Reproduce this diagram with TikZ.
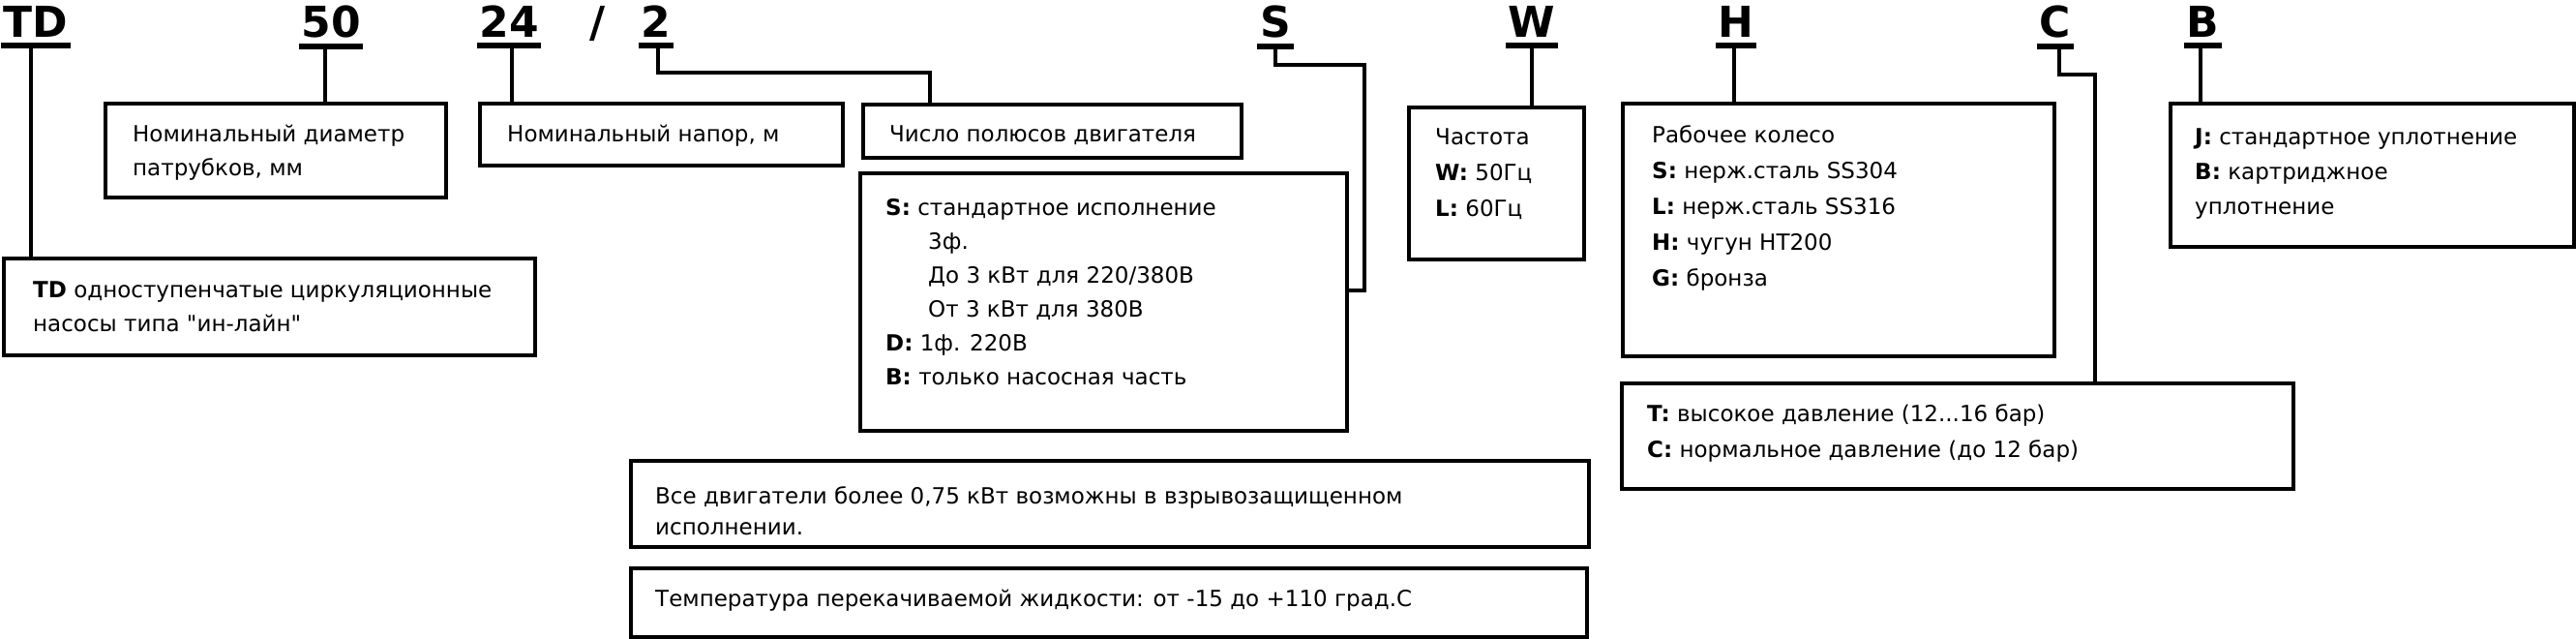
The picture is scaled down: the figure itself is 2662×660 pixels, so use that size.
\documentclass[tikz,border=0pt]{standalone}
\usepackage{fontspec}
\setmainfont{DejaVu Sans}
\newfontfamily\qfont{DejaVu Sans}
\begin{document}
\begin{tikzpicture}[x=1pt,y=-1pt,
  lbl/.style={font=\fontsize{44}{50}\selectfont\bfseries, anchor=base, inner xsep=2.5pt, inner ysep=8pt},
  uline/.style={line width=6pt},
  conn/.style={line width=3.5pt, line join=miter},
  box/.style={draw, line width=4pt, anchor=north west, inner sep=0pt},
  txt/.style={anchor=base west, align=left, inner sep=0pt},
  f35/.style={font=\fontsize{23}{35}\selectfont},
  f37/.style={font=\fontsize{23}{37}\selectfont},
  f36/.style={font=\fontsize{23}{36}\selectfont},
  f32/.style={font=\fontsize{23}{32}\selectfont}]
\fill[white] (0,0) rectangle (2662,660);
\useasboundingbox (0,0) rectangle (2662,660);

% top code letters
\node[lbl] (lTD) at (37,39) {TD};
\node[lbl] (l50) at (342,39) {50};
\node[lbl] (l24) at (526,39) {24};
\node[lbl, inner ysep=0pt] (lsl) at (618,39) {/};
\node[lbl] (l2) at (678,39) {2};
\node[lbl] (lS) at (1318,39) {S};
\node[lbl] (lW) at (1583,39) {W};
\node[lbl] (lH) at (1794,39) {H};
\node[lbl] (lC) at (2124,39) {C};
\node[lbl] (lB) at (2276,39) {B};
\foreach \n in {lTD,l50,l24,l2,lS,lW,lH,lC,lB}
  \draw[uline] (\n.south west) -- (\n.south east);

% boxes
\node[box, minimum width=549pt, minimum height=100pt] (bTD) at (2,265) {};
\node[box, minimum width=352pt, minimum height=97pt] (b50) at (107,105) {};
\node[box, minimum width=375pt, minimum height=64pt] (b24) at (494,105) {};
\node[box, minimum width=391pt, minimum height=55pt] (bP) at (890,106) {};
\node[box, minimum width=503pt, minimum height=266pt] (bS) at (887,177) {};
\node[box, minimum width=181pt, minimum height=157pt] (bW) at (1454,109) {};
\node[box, minimum width=446pt, minimum height=261pt] (bH) at (1675,105) {};
\node[box, minimum width=694pt, minimum height=109pt] (bTC) at (1674,394) {};
\node[box, minimum width=417pt, minimum height=148pt] (bB) at (2241,105) {};
\node[box, minimum width=990pt, minimum height=89pt] (bEx) at (650,474) {};
\node[box, minimum width=988pt, minimum height=71pt] (bT) at (650,585) {};

% texts (anchored at the baseline of their last line)
\node[txt, f35] (tTD) at (34,342) {\textbf{TD} одноступенчатые циркуляционные\\насосы типа {\qfont"}ин-лайн{\qfont"}};
\node[txt, f35] (t50) at (137,182) {Номинальный диаметр\\патрубков, мм};
\node[txt, f35] (t24) at (524,147) {Номинальный напор, м};
\node[txt, f35] (tP) at (919,147) {Число полюсов двигателя};
\node[txt, f35] (tS) at (915,397) {\textbf{S:} стандартное исполнение\\
  \hspace*{44pt}3ф.\\
  \hspace*{44pt}До 3 кВт для 220/380В\\
  \hspace*{44pt}От 3 кВт для 380В\\
  \textbf{D:} 1ф. 220В\\
  \textbf{B:} только насосная часть};
\node[txt, f37] (tW) at (1483,224) {Частота\\\textbf{W:} 50Гц\\\textbf{L:} 60Гц};
\node[txt, f37] (tH) at (1707,295) {Рабочее колесо\\\textbf{S:} нерж.сталь SS304\\\textbf{L:} нерж.сталь SS316\\\textbf{H:} чугун HT200\\\textbf{G:} бронза};
\node[txt, f37] (tTC) at (1702,472) {\textbf{T:} высокое давление (12...16 бар)\\\textbf{C:} нормальное давление (до 12 бар)};
\node[txt, f36] (tB) at (2268,222) {\textbf{J:} стандартное уплотнение\\\textbf{B:} картриджное\\уплотнение};
\node[txt, f32] (tEx) at (677,552) {Все двигатели более 0,75 кВт возможны в взрывозащищенном\\исполнении.};
\node[txt, f32] (tT) at (677,626) {Температура перекачиваемой жидкости: от -15 до +110 град.С};

% connectors
\coordinate (cTD) at (32,47);
\coordinate (c50) at (336,47);
\coordinate (c24) at (529,47);
\coordinate (c2) at (680,47);
\coordinate (cS) at (1318,47);
\coordinate (cW) at (1583,47);
\coordinate (cH) at (1792,47);
\coordinate (cC) at (2128,47);
\coordinate (cB) at (2274,47);
\draw[conn] (cTD) -- (cTD |- bTD.north);
\draw[conn] (c50) -- (c50 |- b50.north);
\draw[conn] (c24) -- (c24 |- b24.north);
\draw[conn] (c2) -- (680,75) -- (961,75) -- (961,0 |- bP.north);
\draw[conn] (cS) -- (1318,67) -- (1410,67) -- (1410,300) -- (bS.east |- 0,300);
\draw[conn] (cW) -- (cW |- bW.north);
\draw[conn] (cH) -- (cH |- bH.north);
\draw[conn] (cC) -- (2128,77) -- (2165,77) -- (2165,0 |- bTC.north);
\draw[conn] (cB) -- (cB |- bB.north);
\end{tikzpicture}
\end{document}
